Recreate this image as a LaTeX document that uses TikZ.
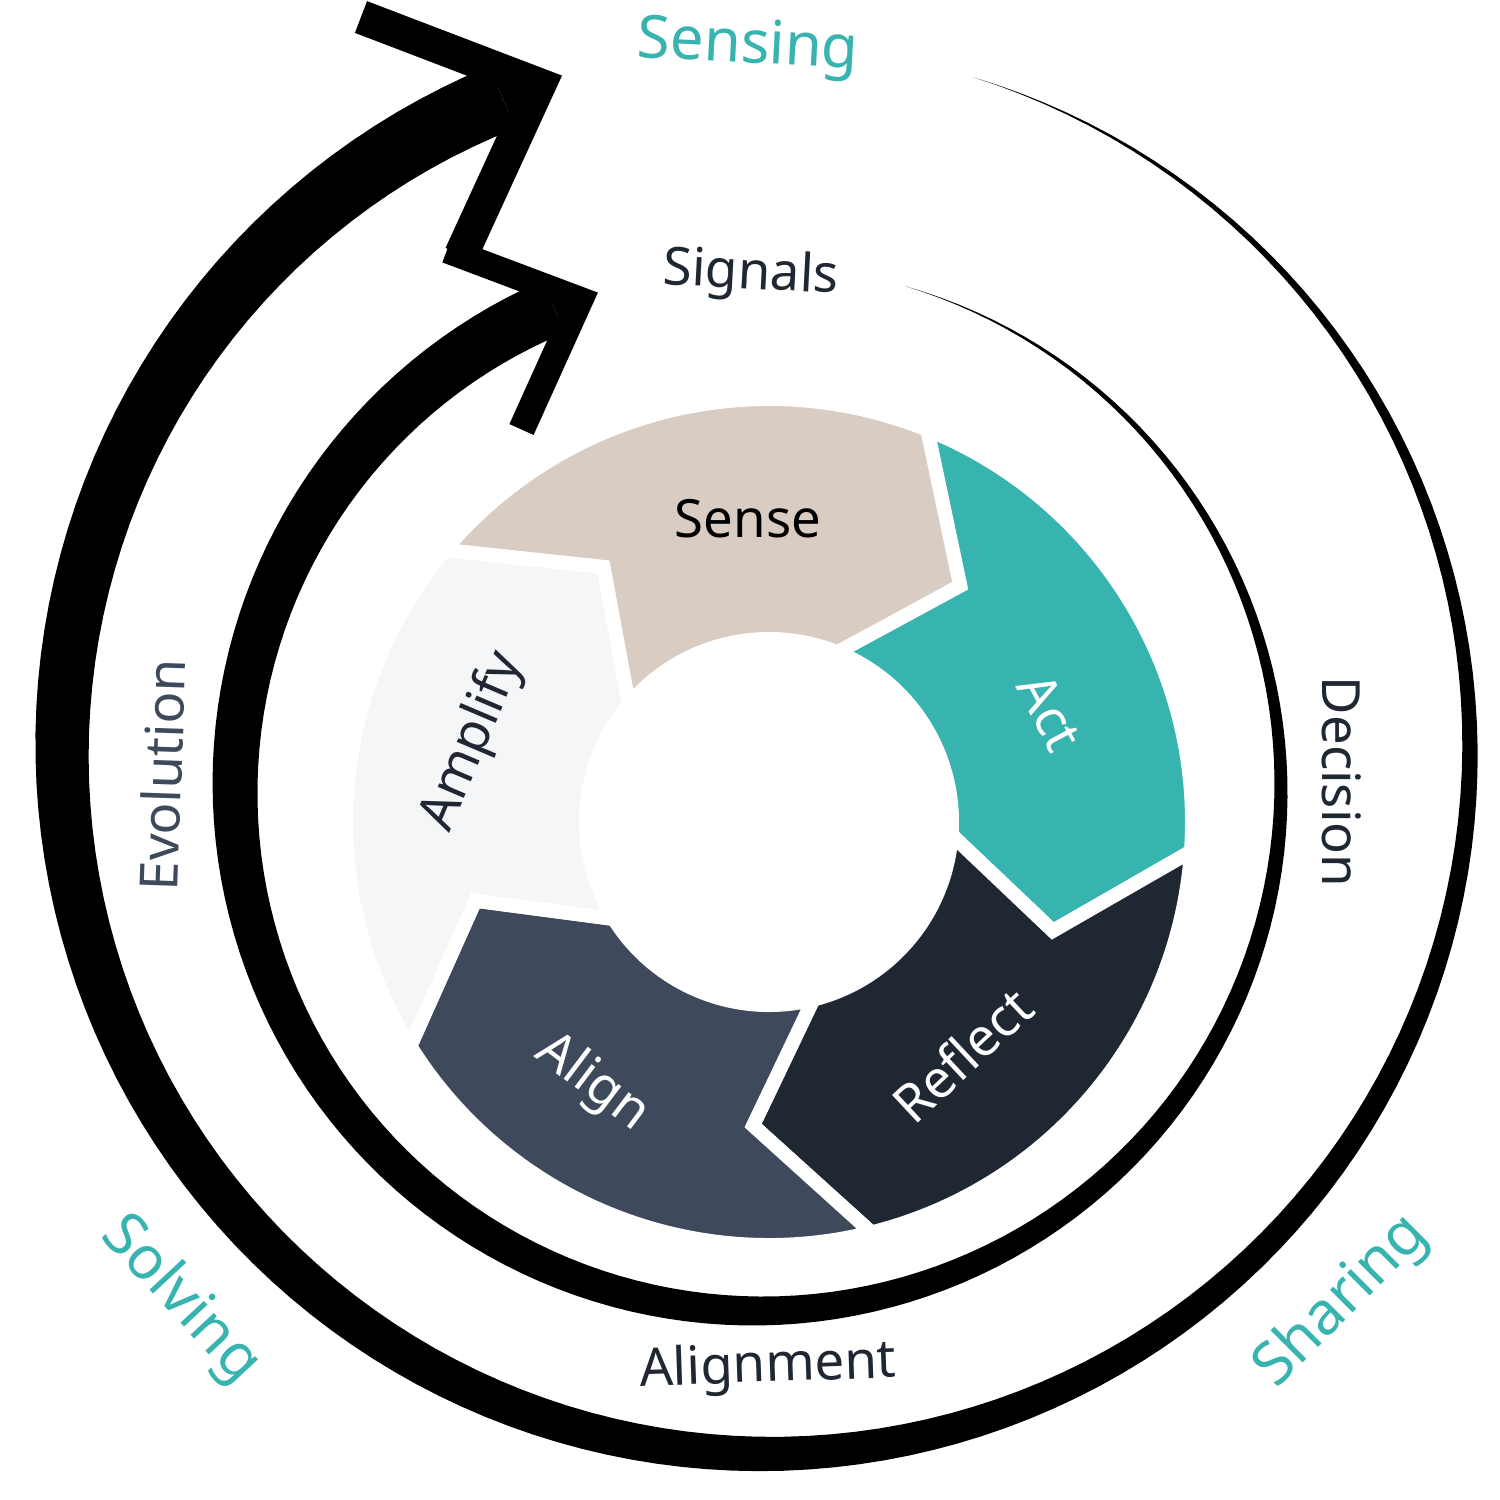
\documentclass[tikz,border=0pt]{standalone}
\usepackage{fontspec}
\setmainfont{Noto Sans}
\definecolor{cycteal}{HTML}{37B3B0}
\definecolor{cycsand}{HTML}{D9CCC2}
\definecolor{cycnavy}{HTML}{1F2733}
\definecolor{cycslate}{HTML}{3E4A5B}
\definecolor{cycmist}{HTML}{F5F6F8}

\tikzset{
  ringlabel/.style={inner sep=0pt, font=\fontsize{15}{18}\selectfont},
  looplabel/.style={inner sep=0pt, text=cycnavy, font=\fontsize{15}{18}\selectfont},
  phaselabel/.style={inner sep=0pt, text=cycteal, font=\fontsize{17}{20}\selectfont},
}

% one chevron piece of the inner cycle: #1 = start angle, #2 = colour
\newcommand{\CycleSegment}[2]{%
  \filldraw[fill=#2, draw=white, line width=0.14cm, miter limit=2]
    (#1:4.23) arc[start angle=#1, end angle=#1-72, radius=4.23]
    -- ({#1-89}:3.04) -- ({#1-72}:1.83)
    arc[start angle=#1-72, end angle=#1, radius=1.83]
    -- ({#1-17}:3.04) -- cycle;
}

\begin{document}
\begin{tikzpicture}
  \useasboundingbox (0,0) rectangle (15,-15);
  \coordinate (outerTip) at (5.39,-0.85);
  \coordinate (innerTip) at (5.80,-3.00);

  \begin{scope}[shift={(7.69,-8.22)}]
    \CycleSegment{140}{cycsand}
    \CycleSegment{68}{cycteal}
    \CycleSegment{-4}{cycnavy}
    \CycleSegment{-76}{cycslate}
    \CycleSegment{-148}{cycmist}
  \end{scope}

  % outer loop
  \begin{scope}[shift={(7.66,-7.50)}]
    \fill plot[domain=72.8:-248, samples=160] (\x:{7.04+0.00105*(72.8-\x)})
      -- plot[domain=-248:72.8, samples=160] (\x:{7.04-0.00105*(72.8-\x)}) -- cycle;
    \fill (-248:7.377) -- (outerTip) -- (-248:6.703) -- cycle;
  \end{scope}
  \draw[line width=0.34cm] (3.61,-0.17) -- (outerTip) -- (4.61,-2.55);

  % middle loop
  \begin{scope}[shift={(7.58,-7.88)}]
    \fill plot[domain=73.6:-247, samples=160] (\x:{5.23+0.00089*(73.6-\x)})
      -- plot[domain=-247:73.6, samples=160] (\x:{5.23-0.00089*(73.6-\x)}) -- cycle;
    \fill (-247:5.515) -- (innerTip) -- (-247:4.945) -- cycle;
  \end{scope}
  \draw[line width=0.265cm] (4.47,-2.50) -- (innerTip) -- (5.215,-4.295);

  \node[ringlabel, text=black]        (sense)   at (7.48,-5.19)  {Sense};
  \node[ringlabel, text=white, rotate=-62] (act) at (10.50,-7.12) {Act};
  \node[ringlabel, text=white, rotate=43]  (reflect) at (9.62,-10.55) {Reflect};
  \node[ringlabel, text=white, rotate=-37] (align) at (5.92,-10.83) {Align};
  \node[ringlabel, text=cycnavy, rotate=67] (amplify) at (4.73,-7.42) {Amplify};

  \node[looplabel, rotate=-3]  (signals)   at (7.51,-2.75)  {Signals};
  \node[looplabel, rotate=88, text=cycslate] (evolution) at (1.62,-7.75) {Evolution};
  \node[looplabel, rotate=-90] (decision)  at (13.42,-7.82) {Decision};
  \node[looplabel, rotate=2]   (alignment) at (7.68,-13.68) {Alignment};

  \node[phaselabel, rotate=-3]  (sensing) at (7.48,-0.48)  {Sensing};
  \node[phaselabel, rotate=-47] (solving) at (1.80,-13.00) {Solving};
  \node[phaselabel, rotate=45]  (sharing) at (13.42,-13.02) {Sharing};
\end{tikzpicture}
\end{document}
